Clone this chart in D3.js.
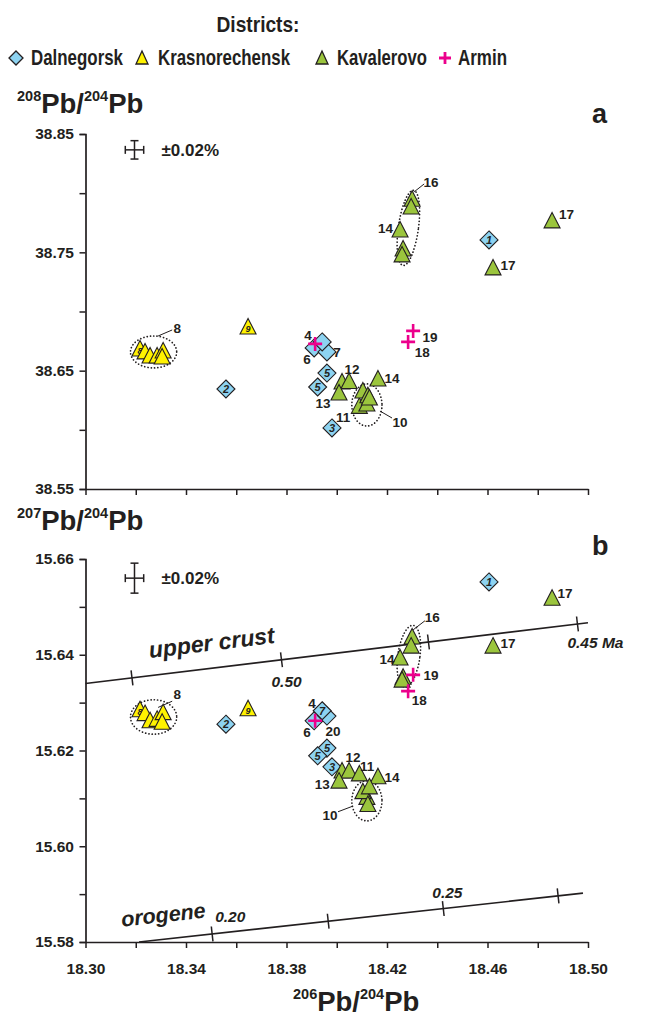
<!DOCTYPE html>
<html><head><meta charset="utf-8">
<script src="https://cdn.jsdelivr.net/npm/d3@7/dist/d3.min.js"></script>
<style>
body{margin:0;background:#fff;}
svg text{font-family:"Liberation Sans",Arial,sans-serif;font-weight:bold;fill:#231f20;}
</style></head><body>
<svg id="c" width="649" height="1017"></svg>
<script>
// ---------------- DATA ----------------
const xMajorTicks = [18.30, 18.34, 18.38, 18.42, 18.46, 18.50];
const xMinorTicks = [18.32, 18.36, 18.40, 18.44, 18.48];
const yATicks = [38.55, 38.65, 38.75, 38.85];
const yAMinor = [38.60, 38.70, 38.80];
const yBTicks = [15.58, 15.60, 15.62, 15.64, 15.66];
const yBMinor = [15.59, 15.61, 15.63, 15.65];

const legendNames = ["Dalnegorsk", "Krasnorechensk", "Kavalerovo", "Armin"];

// x = 206Pb/204Pb, a = 208Pb/204Pb, b = 207Pb/204Pb
const dalnegorsk = [
  {x:18.4606, a:38.7605, b:15.6552, inA:"1", inB:"1"},
  {x:18.3559, a:38.6345, b:15.6255, inA:"2", inB:"2"},
  {x:18.3981, a:38.6016, b:15.6166, inA:"3", inB:"3"},
  {x:18.3910, a:38.6692, b:15.6262, inA:"",  inB:""},
  {x:18.3961, a:38.6658, b:15.6272, inA:"",  inB:""},
  {x:18.3942, a:38.6743, b:15.6283, inA:"",  inB:"7"},
  {x:18.3961, a:38.6480, b:15.6205, inA:"5", inB:"5"},
  {x:18.3924, a:38.6362, b:15.6189, inA:"5", inB:"5"}
];
const krasnorechensk = [
  {x:18.3217, a:38.6675, b:15.6283, inA:"8", inB:"8"},
  {x:18.3237, a:38.6650, b:15.6275, inA:"",  inB:""},
  {x:18.3257, a:38.6616, b:15.6260, inA:"",  inB:""},
  {x:18.3285, a:38.6616, b:15.6263, inA:"",  inB:""},
  {x:18.3309, a:38.6658, b:15.6277, inA:"",  inB:""},
  {x:18.3305, a:38.6607, b:15.6257, inA:"",  inB:""},
  {x:18.3647, a:38.6861, b:15.6285, inA:"9", inB:"9"}
];
const kavalerovo = [
  {x:18.4300, a:38.7940, b:15.6435},
  {x:18.4296, a:38.7875, b:15.6416},
  {x:18.4252, a:38.7680, b:15.6391},
  {x:18.4264, a:38.7520, b:15.6351},
  {x:18.4260, a:38.7470, b:15.6345},
  {x:18.4622, a:38.7360, b:15.6416},
  {x:18.4857, a:38.7757, b:15.6516},
  {x:18.4021, a:38.6396, b:15.6155},
  {x:18.4049, a:38.6400, b:15.6155},
  {x:18.4009, a:38.6303, b:15.6134},
  {x:18.4164, a:38.6421, b:15.6143},
  {x:18.4090, a:38.6190, b:15.6149},
  {x:18.4120, a:38.6210, b:15.6100},
  {x:18.4104, a:38.6320, b:15.6112},
  {x:18.4124, a:38.6280, b:15.6085},
  {x:18.4130, a:38.6260, b:15.6122}
];
const armin = [
  {x:18.4304, a:38.6836, b:15.6358},
  {x:18.4284, a:38.6743, b:15.6324},
  {x:18.3914, a:38.6726, b:15.6262}
];

// sample number annotations (data coordinates)
const labelsA = [
  {t:"8", x:18.3365, y:38.6861}, {t:"16", x:18.4375, y:38.8095}, {t:"14", x:18.4194, y:38.7706},
  {t:"17", x:18.4914, y:38.7825}, {t:"17", x:18.4682, y:38.7393}, {t:"19", x:18.4371, y:38.6785},
  {t:"18", x:18.4340, y:38.6658}, {t:"4", x:18.3886, y:38.6802}, {t:"6", x:18.3882, y:38.6599},
  {t:"7", x:18.4001, y:38.6658}, {t:"12", x:18.4061, y:38.6514}, {t:"14", x:18.4220, y:38.6438},
  {t:"13", x:18.3945, y:38.6227}, {t:"11", x:18.4025, y:38.6109}, {t:"10", x:18.4252, y:38.6066}
];
const labelsB = [
  {t:"8", x:18.3365, y:15.6317}, {t:"16", x:18.4380, y:15.6479}, {t:"14", x:18.4200, y:15.6391},
  {t:"17", x:18.4909, y:15.6529}, {t:"17", x:18.4682, y:15.6425}, {t:"19", x:18.4375, y:15.6358},
  {t:"18", x:18.4328, y:15.6305}, {t:"4", x:18.3902, y:15.6299}, {t:"6", x:18.3882, y:15.6239},
  {t:"20", x:18.3985, y:15.6241}, {t:"12", x:18.4065, y:15.6186}, {t:"11", x:18.4121, y:15.6168},
  {t:"14", x:18.4220, y:15.6145}, {t:"13", x:18.3942, y:15.6130}, {t:"10", x:18.3973, y:15.6065}
];
const leadersA = [
  {x1:18.3289, y1:38.6793, x2:18.3345, y2:38.6844},
  {x1:18.4308, y1:38.8011, x2:18.4348, y2:38.8078},
  {x1:18.4172, y1:38.6159, x2:18.4220, y2:38.6100}
];
const leadersB = [
  {x1:18.3289, y1:15.6290, x2:18.3345, y2:15.6303},
  {x1:18.4304, y1:15.6452, x2:18.4351, y2:15.6471},
  {x1:18.4005, y1:15.6072, x2:18.4065, y2:15.6084}
];
// dotted group ellipses: centre, half-axes in data units, rotation (deg)
const ellipsesA = [
  {cx:18.3271, cy:38.6658, rx:0.0092, ry:0.0135, rot:0},
  {cx:18.4285, cy:38.7706, rx:0.0040, ry:0.0320, rot:8},
  {cx:18.4120, cy:38.6210, rx:0.0060, ry:0.0178, rot:0}
];
const ellipsesB = [
  {cx:18.3271, cy:15.6270, rx:0.0092, ry:0.0036, rot:0},
  {cx:18.4287, cy:15.6397, rx:0.0044, ry:0.0065, rot:8},
  {cx:18.4120, cy:15.6095, rx:0.0060, ry:0.0042, rot:0}
];
// model growth curves (panel b)
const upperCrustX = [18.30, 18.50];
const upperCrustY = [15.6340, 15.6467];
const upperCrustTicks = [18.3185, 18.3780, 18.4365, 18.4958];
const upperCrustTickLabels = ["", "0.50", "", "0.45 Ma"];
const orogeneX = [18.3213, 18.4980];
const orogeneY = [15.5800, 15.5902];
const orogeneTicks = [18.3504, 18.3966, 18.4424, 18.4881];
const orogeneTickLabels = ["0.20", "", "0.25", ""];
const errPct = 0.0002; // ±0.02 %
const errCentreA = {x:18.3195, y:38.8366};
const errCentreB = {x:18.3195, y:15.6560};

// ---------------- DRAW ----------------
const INK = "#231f20";
const COL = {dal:"#8dd3f1", kra:"#fff200", kav:"#9bc53d", arm:"#ec008c"};
const svg = d3.select("#c");
const x = d3.scaleLinear().domain([18.30, 18.50]).range([85.5, 588]);
const yA = d3.scaleLinear().domain([38.55, 38.85]).range([489, 134]);
const yB = d3.scaleLinear().domain([15.58, 15.66]).range([942, 559]);

const TRI = "M0,-9.5L8,6L-8,6Z";
const DIA = "M0,-9L9,0L0,9L-9,0Z";

function styleAxis(g){
  g.selectAll("path.domain").attr("stroke", INK).attr("stroke-width", 1.7);
  g.selectAll(".tick line").attr("stroke", INK).attr("stroke-width", 1.5);
  g.selectAll("text").attr("font-size", 15.5).attr("fill", INK)
    .attr("font-family", '"Liberation Sans",Arial,sans-serif').attr("font-weight", "bold");
}

function drawAxes(y, majors, minors, fmt, showXLabels){
  const gy = svg.append("g").attr("transform", "translate(85.5,0)");
  gy.call(d3.axisLeft(y).tickValues(majors).tickSize(6).tickPadding(5.5).tickFormat(fmt));
  gy.append("g").call(d3.axisLeft(y).tickValues(minors).tickSize(6).tickFormat(""))
    .select("path.domain").remove();
  styleAxis(gy);
  const y0 = y.range()[0];
  const gx = svg.append("g").attr("transform", `translate(0,${y0})`);
  gx.call(d3.axisBottom(x).tickValues(xMajorTicks).tickSize(6).tickPadding(15)
    .tickSizeOuter(0).tickFormat(showXLabels ? d3.format(".2f") : ""));
  gx.append("g").call(d3.axisBottom(x).tickValues(xMinorTicks).tickSize(6).tickFormat(""))
    .select("path.domain").remove();
  styleAxis(gx);
}

function drawPanel(y, key, labels, leaders, ellipses, errC){
  const g = svg.append("g");
  // error cross
  const cx = x(errC.x), cy = y(errC.y);
  const hx = x(errC.x * (1 + errPct)) - cx, hy = cy - y(errC.y * (1 + errPct));
  const eg = g.append("g").attr("stroke", INK).attr("stroke-width", 1.5).attr("fill", "none");
  eg.append("line").attr("x1", cx - hx).attr("x2", cx + hx).attr("y1", cy).attr("y2", cy);
  eg.append("line").attr("x1", cx).attr("x2", cx).attr("y1", cy - hy).attr("y2", cy + hy);
  [-1, 1].forEach(s => {
    eg.append("line").attr("x1", cx + s*hx).attr("x2", cx + s*hx).attr("y1", cy - 4).attr("y2", cy + 4);
    eg.append("line").attr("x1", cx - 4).attr("x2", cx + 4).attr("y1", cy + s*hy).attr("y2", cy + s*hy);
  });
  g.append("text").attr("x", cx + 27).attr("y", cy + 6).attr("font-size", 17).text("±0.02%");

  // ellipses
  ellipses.forEach(e => {
    const ex = x(e.cx), ey = y(e.cy);
    const rx = x(e.cx + e.rx) - ex, ry = ey - y(e.cy + e.ry);
    g.append("ellipse").attr("cx", 0).attr("cy", 0).attr("rx", rx).attr("ry", ry)
      .attr("transform", `translate(${ex},${ey}) rotate(${e.rot})`)
      .attr("fill", "none").attr("stroke", INK).attr("stroke-width", 1.7)
      .attr("stroke-dasharray", "0.1,3.2").attr("stroke-linecap", "round");
  });
  leaders.forEach(l => {
    g.append("line").attr("x1", x(l.x1)).attr("y1", y(l.y1)).attr("x2", x(l.x2)).attr("y2", y(l.y2))
      .attr("stroke", INK).attr("stroke-width", 1);
  });

  const inKey = key === "a" ? "inA" : "inB";
  function markers(data, path, fill, textDy){
    const m = g.append("g").selectAll("g").data(data).join("g")
      .attr("transform", d => `translate(${x(d.x)},${y(d[key])})`);
    m.append("path").attr("d", path).attr("fill", fill).attr("stroke", INK).attr("stroke-width", 1.1)
      .attr("stroke-linejoin", "miter");
    m.filter(d => d[inKey]).append("text").attr("text-anchor", "middle").attr("y", textDy)
      .attr("font-size", path === TRI ? 9 : 11).attr("font-style", "italic").text(d => d[inKey]);
  }
  markers(dalnegorsk, DIA, COL.dal, 4);
  markers(krasnorechensk, TRI, COL.kra, 4);
  markers(kavalerovo, TRI, COL.kav, 4);
  g.append("g").selectAll("path").data(armin).join("path")
    .attr("d", "M-7,0H7M0,-7V7")
    .attr("transform", d => `translate(${x(d.x)},${y(d[key])})`)
    .attr("stroke", COL.arm).attr("stroke-width", 2.6).attr("fill", "none");

  g.append("g").selectAll("text").data(labels).join("text")
    .attr("x", d => x(d.x)).attr("y", d => y(d.y) + 5)
    .attr("text-anchor", "middle").attr("font-size", 13.5).text(d => d.t);
}

function growthCurve(xs, ys, ticks, tickLabels, labelPos){
  const line = d3.line().x(d => x(d[0])).y(d => yB(d[1]));
  const pts = xs.map((v, i) => [v, ys[i]]);
  svg.append("path").attr("d", line(pts)).attr("stroke", INK).attr("stroke-width", 1.6).attr("fill", "none");
  const interp = d3.scaleLinear().domain(xs).range(ys);
  const ang = Math.atan2(yB(ys[1]) - yB(ys[0]), x(xs[1]) - x(xs[0]));
  ticks.forEach((t, i) => {
    const px = x(t), py = yB(interp(t));
    const nx = -Math.sin(ang), ny = Math.cos(ang);
    svg.append("line").attr("x1", px - nx*7.5).attr("y1", py - ny*7.5)
      .attr("x2", px + nx*7.5).attr("y2", py + ny*7.5)
      .attr("stroke", INK).attr("stroke-width", 1.5);
    if (tickLabels[i]) {
      const p = labelPos[i];
      svg.append("text").attr("x", px + p[0]).attr("y", py + p[1])
        .attr("font-size", 15.5).attr("font-style", "italic").text(tickLabels[i]);
    }
  });
  return ang;
}

// axes
drawAxes(yA, yATicks, yAMinor, d3.format(".2f"), false);
drawAxes(yB, yBTicks, yBMinor, d3.format(".2f"), true);

// growth curves
const angU = growthCurve(upperCrustX, upperCrustY, upperCrustTicks, upperCrustTickLabels,
  [null, [-10, 27], null, [-10, 24]]);
const angO = growthCurve(orogeneX, orogeneY, orogeneTicks, orogeneTickLabels,
  [[3, -12], null, [-11, -11], null]);
svg.append("text").attr("transform", `translate(${x(18.3256)},${yB(15.6393)}) rotate(${angU*180/Math.PI})`)
  .attr("font-size", 23).attr("font-style", "italic").text("upper crust");
svg.append("text").attr("transform", `translate(${x(18.3145)},${yB(15.5832)}) rotate(${angO*180/Math.PI})`)
  .attr("font-size", 21.5).attr("font-style", "italic").text("orogene");

// panels
drawPanel(yA, "a", labelsA, leadersA, ellipsesA, errCentreA);
drawPanel(yB, "b", labelsB, leadersB, ellipsesB, errCentreB);

// panel letters
svg.append("text").attr("x", 592).attr("y", 123).attr("font-size", 27).text("a");
svg.append("text").attr("x", 592).attr("y", 555).attr("font-size", 27).text("b");

// axis titles
function isoTitle(xp, yp, a, b){
  const t = svg.append("text").attr("x", xp).attr("y", yp).attr("font-size", 27.5);
  t.append("tspan").attr("font-size", 14.5).attr("dy", -12).text(a);
  t.append("tspan").attr("dy", 12).text("Pb/");
  t.append("tspan").attr("font-size", 14.5).attr("dy", -12).text(b);
  t.append("tspan").attr("dy", 12).text("Pb");
  return t;
}
isoTitle(17, 113, "208", "204");
isoTitle(17, 530, "207", "204");
isoTitle(293, 1011, "206", "204");

// legend
svg.append("text").attr("x", 258).attr("y", 32).attr("text-anchor", "middle")
  .attr("font-size", 22).attr("textLength", 83).attr("lengthAdjust", "spacingAndGlyphs").text("Districts:");
const legX = [16, 142, 322, 445];
const legTX = [31, 158, 337, 458];
const legW = [92, 132, 90, 49];
const legY = 58;
legendNames.forEach((n, i) => {
  svg.append("text").attr("x", legTX[i]).attr("y", legY + 7).attr("font-size", 22)
    .attr("textLength", legW[i]).attr("lengthAdjust", "spacingAndGlyphs").text(n);
});
svg.append("path").attr("d", "M0,-7L7,0L0,7L-7,0Z").attr("transform", `translate(${legX[0]},${legY})`)
  .attr("fill", COL.dal).attr("stroke", INK).attr("stroke-width", 1.3);
svg.append("path").attr("d", "M0,-7L6,6L-6,6Z").attr("transform", `translate(${legX[1]},${legY})`)
  .attr("fill", COL.kra).attr("stroke", INK).attr("stroke-width", 1.3);
svg.append("path").attr("d", "M0,-7L6,6L-6,6Z").attr("transform", `translate(${legX[2]},${legY})`)
  .attr("fill", COL.kav).attr("stroke", INK).attr("stroke-width", 1.3);
svg.append("path").attr("d", "M-6,0H6M0,-6V6").attr("transform", `translate(${legX[3]},${legY})`)
  .attr("stroke", COL.arm).attr("stroke-width", 2.8).attr("fill", "none");
</script>
</body></html>
